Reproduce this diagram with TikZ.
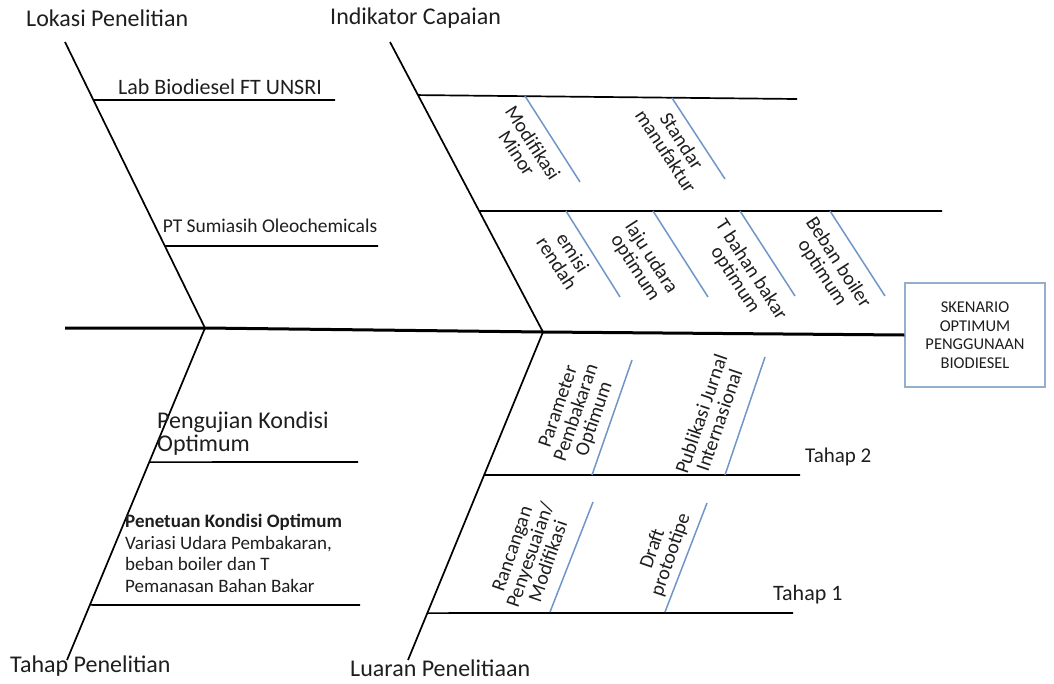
\documentclass[tikz,border=0pt]{standalone}
\usepackage{fontspec}
\setmainfont{Carlito}
\usetikzlibrary{calc}
\definecolor{ribblue}{RGB}{112,150,200}
\definecolor{boxblue}{RGB}{150,174,206}
\definecolor{ink}{RGB}{30,30,30}

\begin{document}
\begin{tikzpicture}[x=1pt,y=-1pt,
  spine/.style={line width=3pt,draw=black},
  bone/.style={line width=1.7pt,draw=black},
  rib/.style={line width=1.5pt,draw=ribblue},
  cat/.style={inner sep=0pt,anchor=west,text=ink,font=\fontsize{24}{24}\selectfont},
  site/.style={inner sep=0pt,text=ink,font=\fontsize{21}{21}\selectfont},
  tilt/.style={inner sep=0pt,align=center,text=ink,rotate=-57,font=\fontsize{20}{19}\selectfont},
  rise/.style={inner sep=0pt,align=center,text=ink,rotate=71,font=\fontsize{20}{19}\selectfont},
  goal/.style={draw=boxblue,line width=1.1pt,minimum width=140pt,minimum height=104pt,
    align=center,text=ink,font=\fontsize{16.5}{18.5}\selectfont}]
  \useasboundingbox (0,0) rectangle (1054,683);

  \coordinate (tail) at (65,328);
  \coordinate (j1) at (205,328);
  \coordinate (j2) at (543,332);
  \coordinate (lokT) at (65,42);
  \coordinate (indT) at (390,42);
  \coordinate (thpB) at (67,660);
  \coordinate (luaB) at (408,660);
  \node[goal] (goal) at (975,335) {SKENARIO\\OPTIMUM\\PENGGUNAAN\\BIODIESEL};

  \draw[spine] (tail) -- (j1) -- (j2) -- (goal.west);
  \draw[bone] (lokT) -- (j1);
  \draw[bone] (indT) -- (j2);
  \draw[bone] (j1) -- (thpB);
  \draw[bone] (j2) -- (luaB);

  \node[cat] (lok) at (26,18) {Lokasi Penelitian};
  \node[cat] (ind) at (330,18) {Indikator Capaian};
  \node[cat] (thp) at (10,666) {Tahap Penelitian};
  \node[cat] (lua) at (350,668) {Luaran Penelitiaan};

  % Lokasi Penelitian
  \coordinate (lab0) at ($(lokT)!0.203!(j1)$);
  \coordinate (lab1) at (335,100);
  \coordinate (pts0) at ($(lokT)!0.713!(j1)$);
  \coordinate (pts1) at (378,246);
  \draw[bone] (lab0) -- (lab1);
  \draw[bone] (pts0) -- (pts1);
  \node[site,font=\fontsize{22}{22}\selectfont] (lab) at (220,87) {Lab Biodiesel FT UNSRI};
  \node[site,font=\fontsize{19.5}{20}\selectfont] (pts) at (270,226) {PT Sumiasih Oleochemicals};

  % Indikator Capaian
  \coordinate (ic10) at ($(indT)!0.183!(j2)$);
  \coordinate (ic11) at (797,99);
  \coordinate (ic20) at ($(indT)!0.583!(j2)$);
  \coordinate (ic21) at (942,211);
  \draw[bone] (ic10) -- (ic11);
  \draw[bone] (ic20) -- (ic21);
  \draw[rib] (525,96) -- ++(55,86);
  \draw[rib] (672,98) -- ++(53,81);
  \draw[rib] (566,211) -- ++(54,86);
  \draw[rib] (653,211) -- ++(55,86);
  \draw[rib] (740,211) -- ++(55,85);
  \draw[rib] (830,211) -- ++(55,85);
  \node[tilt] (mod) at (525,148) {Modifikasi\\Minor};
  \node[tilt] (std) at (674,146) {Standar\\manufaktur};
  \node[tilt] (emi) at (565,258) {emisi\\rendah};
  \node[tilt] (laj) at (643,263) {laju udara\\optimum};
  \node[tilt] (tbb) at (743,275) {T bahan bakar\\optimum};
  \node[tilt] (beb) at (830,268) {Beban boiler\\optimum};

  % Tahap Penelitian
  \coordinate (uji0) at ($(j1)!0.404!(thpB)$);
  \coordinate (uji1) at (358,462);
  \coordinate (tet0) at ($(j1)!0.834!(thpB)$);
  \coordinate (tet1) at (360,605);
  \draw[bone] (uji0) -- (uji1);
  \draw[bone] (tet0) -- (tet1);
  \node[site,anchor=north west,align=left,font=\fontsize{24}{23}\selectfont] (uji) at (157,412)
    {Pengujian Kondisi\\Optimum};
  \node[site,anchor=north west,align=left,font=\fontsize{19}{21.5}\selectfont] (tet) at (125,514)
    {\textbf{Penetuan Kondisi Optimum}\\Variasi Udara Pembakaran,\\beban boiler dan T\\Pemanasan Bahan Bakar};

  % Luaran Penelitiaan
  \coordinate (th20) at ($(j2)!0.436!(luaB)$);
  \coordinate (th21) at (800,475);
  \coordinate (th10) at ($(j2)!0.857!(luaB)$);
  \coordinate (th11) at (793,613);
  \draw[bone] (th20) -- (th21);
  \draw[bone] (th10) -- (th11);
  \draw[rib] (592,475) -- ++(40,-115);
  \draw[rib] (725,475) -- ++(40,-118);
  \draw[rib] (550,612) -- ++(43,-110);
  \draw[rib] (665,612) -- ++(42,-109);
  \node[rise] (par) at (577,413) {Parameter\\Pembakaran\\Optimum};
  \node[rise] (pub) at (710,417) {Publikasi Jurnal\\Internasional};
  \node[rise] (ran) at (530,555) {Rancangan\\Penyesuaian/\\Modifikasi};
  \node[rise] (drf) at (662,552) {Draft\\protootipe};
  \node[site,anchor=west] (t2) at (805,457) {Tahap 2};
  \node[site,anchor=west,font=\fontsize{22}{22}\selectfont] (t1) at (773,595) {Tahap 1};
\end{tikzpicture}
\end{document}
